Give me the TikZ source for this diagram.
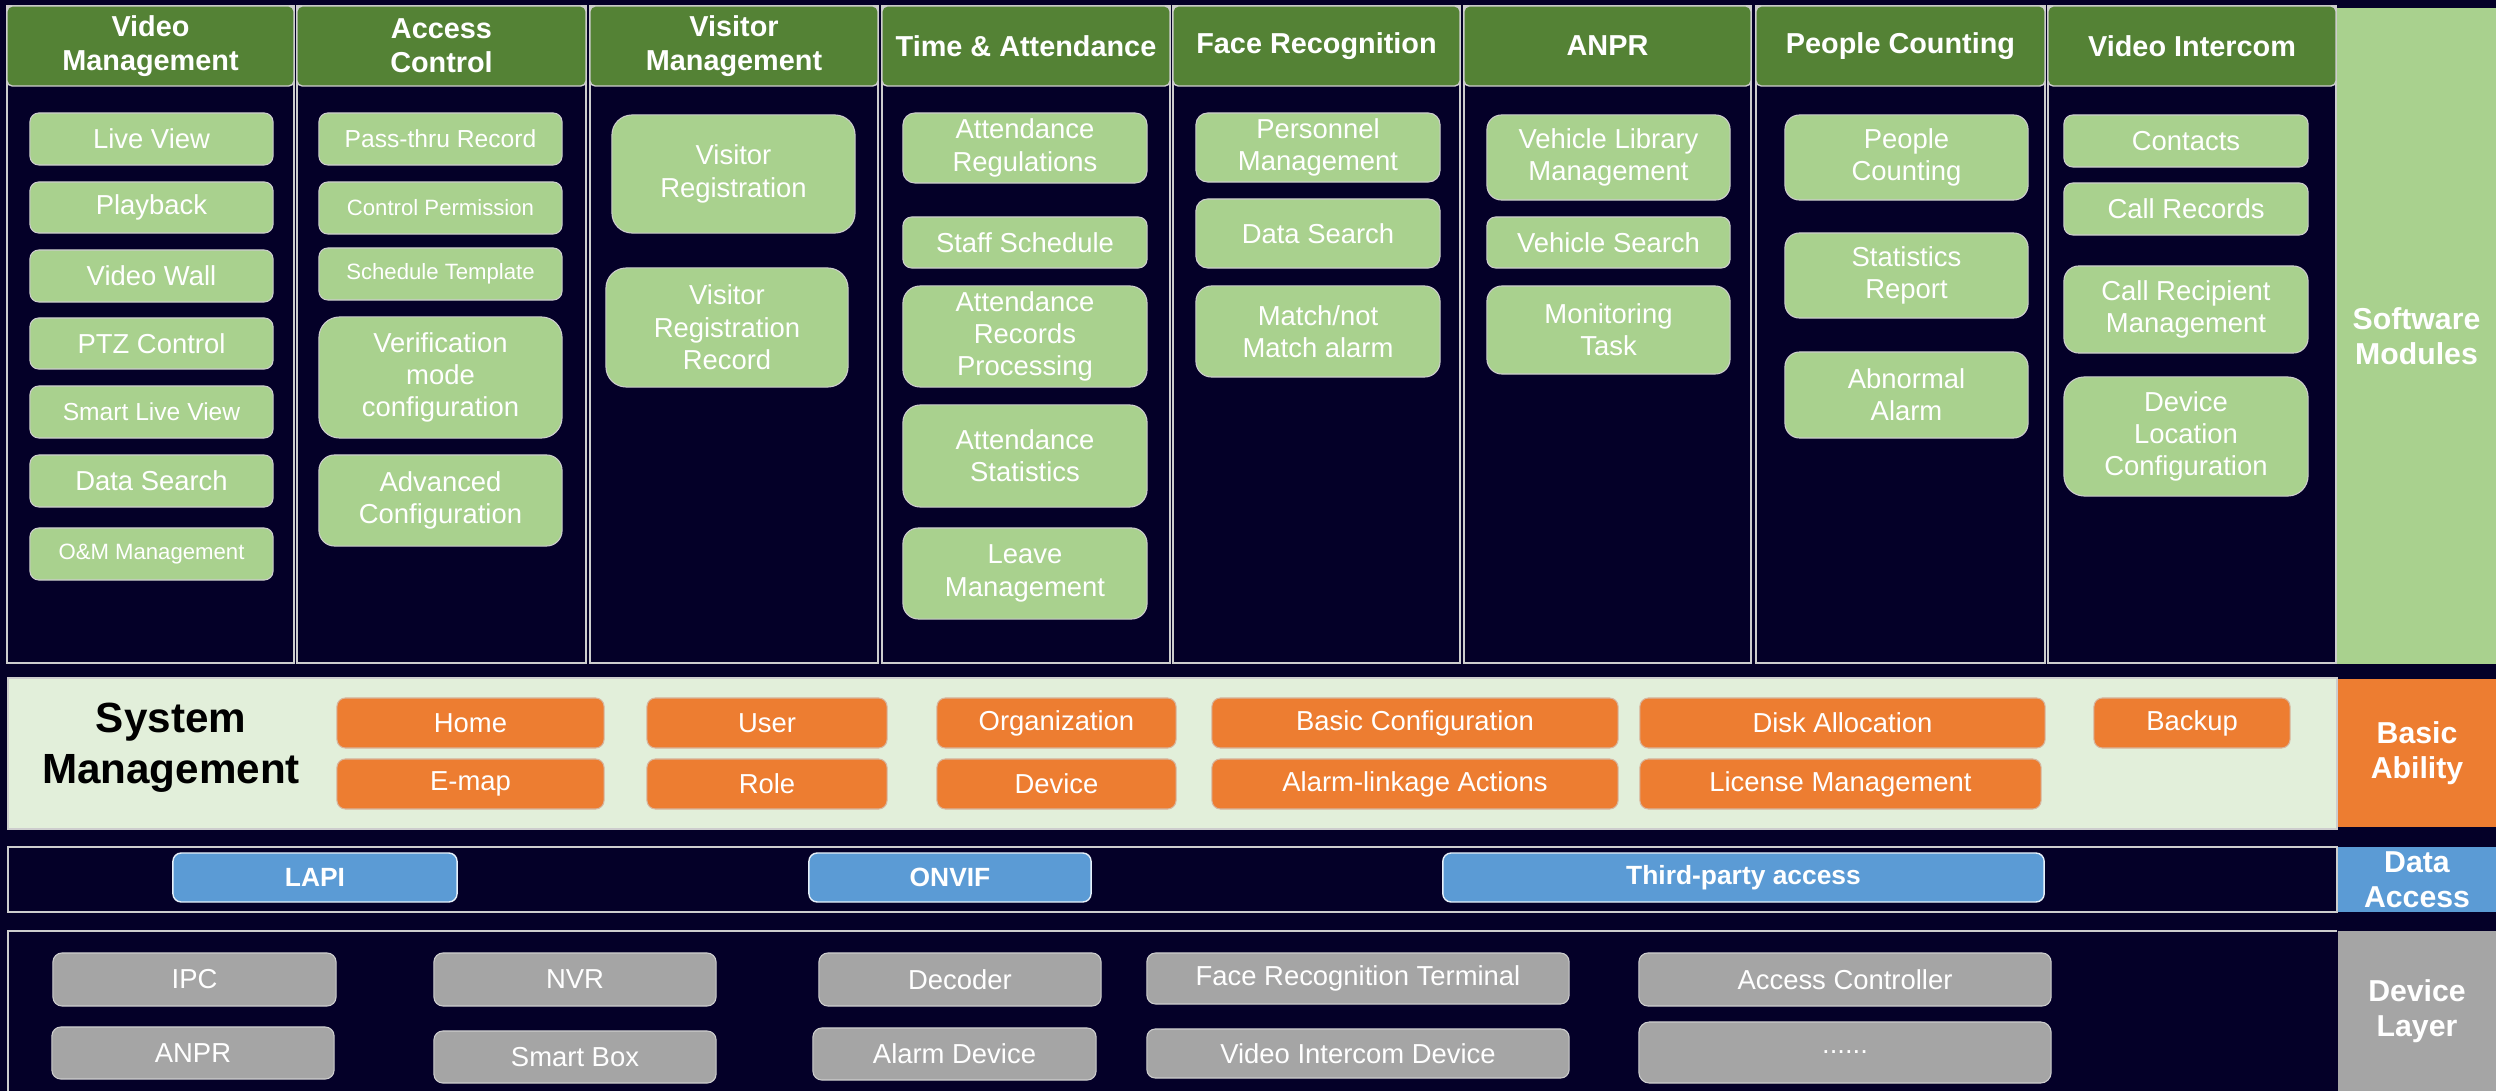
\documentclass[tikz,border=0pt]{standalone}
\usepackage{fontspec}
\setmainfont{Liberation Sans}
\usepackage{tikz}

\definecolor{bgnavy}{RGB}{4,0,40}
\definecolor{hgreen}{RGB}{84,130,53}
\definecolor{igreen}{RGB}{169,209,142}
\definecolor{bandgreen}{RGB}{226,239,218}
\definecolor{borange}{RGB}{237,125,49}
\definecolor{dblue}{RGB}{91,155,213}
\definecolor{dgray}{RGB}{165,165,165}
\definecolor{lgray}{RGB}{205,205,205}

% box from (x1,y1) to (x2,y2) in pixels
\newcommand{\tile}[7]{%
  \pgfmathsetmacro{\tw}{(#5-#3)*0.284528}%
  \pgfmathsetmacro{\th}{(#6-#4)*0.284528}%
  \pgfmathsetmacro{\tr}{0.17*min(\tw,\th)}%
  \node[minimum width=\tw pt, minimum height=\th pt, rounded corners=\tr pt, #1]
    (#2) at ({(#3+#5)/2},{(#4+#6)/2}) {#7};}

\begin{document}
\begin{tikzpicture}[x=0.01cm, y=-0.01cm,
    every node/.style={font=\fontsize{7.8}{9.2}\selectfont, text=white, align=center,
      inner sep=0pt, outer sep=0pt},
    modhead/.style={fill=hgreen, draw=lgray, line width=0.4pt, rounded corners=1.5pt,
      font=\bfseries\fontsize{8.2}{9.7}\selectfont},
    moditem/.style={fill=igreen, draw=lgray, line width=0.3pt},
    basebox/.style={fill=borange, draw=lgray!70!borange, line width=0.3pt},
    databox/.style={fill=dblue, draw=white!85!dblue, line width=0.4pt,
      font=\bfseries\fontsize{7.5}{9}\selectfont},
    devbox/.style={fill=dgray, draw=lgray, line width=0.3pt},
    sidelabel/.style={sharp corners, font=\bfseries\fontsize{8.6}{10}\selectfont},
    smalltxt/.style={font=\fontsize{6.3}{7.5}\selectfont}]

\fill[bgnavy] (0,0) rectangle (2496,1091);
\useasboundingbox (0,0) rectangle (2496,1091);

% software modules
\foreach \xa/\xb/\nm/\ttl in {7/294/vm/{Video\\Management}, 297/586/ac/{Access\\Control},
    590/878/vis/{Visitor\\Management}, 882/1170/ta/{Time \& Attendance},
    1173/1460/fr/{Face Recognition}, 1464/1751/anpr/{ANPR},
    1756/2045/pc/{People Counting}, 2048/2336/vi/{Video Intercom}}{
  \filldraw[fill=bgnavy, draw=lgray, line width=0.4pt] (\xa,6) rectangle (\xb,663);
  \tile{modhead}{h\nm}{\xa}{6}{\xb}{86}{\ttl}
}

\foreach \nm/\xa/\ya/\xb/\yb/\txt in {
    live/30/113/273/165/{Live View}, playback/30/182/273/233/Playback,
    videowall/30/250/273/302/{Video Wall}, ptz/30/318/273/369/{PTZ Control},
    vmsearch/30/455/273/507/{Data Search},
    verif/319/317/562/438/{Verification\\mode\\configuration},
    advconf/319/455/562/546/{Advanced\\Configuration},
    visreg/612/115/855/233/{Visitor\\Registration},
    visrec/606/268/848/387/{Visitor\\Registration\\Record},
    attreg/903/113/1147/183/{Attendance\\Regulations},
    staffsched/903/217/1147/268/{Staff Schedule},
    attproc/903/286/1147/387/{Attendance\\Records\\Processing},
    attstat/903/405/1147/507/{Attendance\\Statistics},
    leave/903/528/1147/619/{Leave\\Management},
    personnel/1196/113/1440/182/{Personnel\\Management},
    frsearch/1196/199/1440/268/{Data Search},
    matchalarm/1196/286/1440/377/{Match/not\\Match alarm},
    vehlib/1487/115/1730/200/{Vehicle Library\\Management},
    vehsearch/1487/217/1730/268/{Vehicle Search},
    montask/1487/286/1730/374/{Monitoring\\Task},
    pplcount/1785/115/2028/200/{People\\Counting},
    statrep/1785/233/2028/318/{Statistics\\Report},
    abnalarm/1785/352/2028/438/{Abnormal\\Alarm},
    contacts/2064/115/2308/167/Contacts,
    callrec/2064/183/2308/235/{Call Records},
    callrecip/2064/266/2308/353/{Call Recipient\\Management},
    devloc/2064/377/2308/496/{Device\\Location\\Configuration}}{
  \tile{moditem}{\nm}{\xa}{\ya}{\xb}{\yb}{\txt}
}
\tile{moditem, font=\fontsize{7}{8}\selectfont}{smartlive}{30}{386}{273}{438}{Smart Live View}
\tile{moditem, smalltxt}{om}{30}{528}{273}{580}{O\&M Management}
\tile{moditem, font=\fontsize{7}{8}\selectfont}{passthru}{319}{113}{562}{165}{Pass-thru Record}
\tile{moditem, smalltxt}{ctrlperm}{319}{182}{562}{234}{Control Permission}
\tile{moditem, smalltxt}{schedtpl}{319}{248}{562}{300}{Schedule Template}

\tile{sidelabel, fill=igreen}{swlabel}{2337}{8}{2496}{664}{Software\\Modules}

% basic ability
\filldraw[fill=bandgreen, draw=lgray, line width=0.3pt] (8,678) rectangle (2337,829);
\node[text=black, font=\bfseries\fontsize{12}{14.6}\selectfont] (sysmgmt) at (171,748)
  {System\\Management};
\foreach \nm/\xa/\ya/\xb/\yb/\txt in {
    home/337/698/604/748/Home, emap/337/759/604/809/E-map,
    user/647/698/887/748/User, role/647/759/887/809/Role,
    org/937/698/1176/748/Organization, device/937/759/1176/809/Device,
    basiccfg/1212/698/1618/748/{Basic Configuration},
    alarmlink/1212/759/1618/809/{Alarm-linkage Actions},
    disk/1640/698/2045/748/{Disk Allocation},
    license/1640/759/2041/809/{License Management},
    backup/2094/698/2290/748/Backup}{
  \tile{basebox}{\nm}{\xa}{\ya}{\xb}{\yb}{\txt}
}
\tile{sidelabel, fill=borange}{ablabel}{2338}{679}{2496}{827}{Basic\\Ability}

% data access
\draw[lgray, line width=0.4pt] (8,847) rectangle (2337,912);
\tile{databox}{lapi}{173}{853}{457}{902}{LAPI}
\tile{databox}{onvif}{809}{853}{1091}{902}{ONVIF}
\tile{databox}{thirdparty}{1443}{853}{2044}{902}{Third-party access}
\tile{sidelabel, fill=dblue}{dalabel}{2338}{847}{2496}{912}{Data\\Access}

% device layer
\draw[lgray, line width=0.4pt] (8,1091) -- (8,931) -- (2337,931);
\foreach \nm/\xa/\ya/\xb/\yb/\txt in {
    ipc/53/953/336/1006/IPC, anprdev/52/1027/334/1079/ANPR,
    nvr/434/953/716/1006/NVR, smartbox/434/1031/716/1083/{Smart Box},
    decoder/819/953/1101/1006/Decoder, alarmdev/813/1028/1096/1080/{Alarm Device},
    faceterm/1147/953/1569/1004/{Face Recognition Terminal},
    intercom/1147/1029/1569/1078/{Video Intercom Device},
    accessctl/1639/953/2051/1006/{Access Controller},
    moredev/1639/1022/2051/1083/{......}}{
  \tile{devbox}{\nm}{\xa}{\ya}{\xb}{\yb}{\txt}
}
\tile{sidelabel, fill=dgray}{dllabel}{2338}{931}{2496}{1091}{Device\\Layer}
\end{tikzpicture}
\end{document}
